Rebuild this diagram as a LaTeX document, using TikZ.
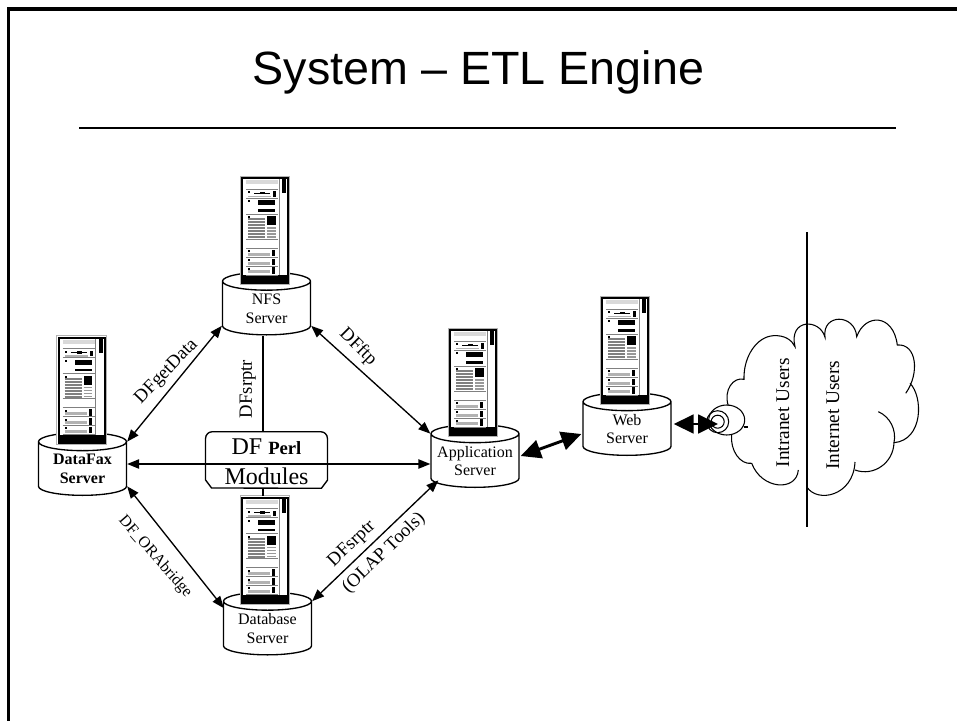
\documentclass[tikz,border=0pt]{standalone}
\usepackage{fontspec}
\setmainfont{Liberation Serif}
\newfontfamily\titlefont{Liberation Sans}
\usetikzlibrary{calc, shapes.geometric, arrows.meta}
\newcommand{\drumbody}{\hspace*{50pt}}
\tikzset{
	drum/.style={cylinder, shape border rotate=90, aspect=0.27, draw, line width=1pt, fill=white, anchor=shape center,
		minimum width=66pt, minimum height=47pt, inner sep=0pt},
	drumtext/.style={inner sep=0pt, align=center, font=\fontsize{12}{14}\selectfont},
	link/.style={line width=1pt, {Triangle[length=9pt,width=7pt]}-{Triangle[length=9pt,width=7pt]}},
	heavylink/.style={line width=2.2pt, {Triangle[length=15pt,width=14pt]}-{Triangle[length=15pt,width=14pt]}},
	linklabel/.style={inner sep=0pt, font=\fontsize{14}{16}\selectfont, align=center},
	rack/.pic={
		\draw [gray!60, fill=white, line width=0.5pt] (-0.8,-0.8) rectangle (48.8,107.8);
		\draw [black, line width=1.5pt] (1,1) rectangle (47,106);
		\fill [black] (0.5,98) rectangle (47.5,106.5);
		\fill [black] (41,2) rectangle (45,16);
		\fill [gray!30] (5,3) rectangle (37,7);
		\draw [gray, line width=0.4pt] (38,2) -- (38,98);
		\draw [gray, line width=0.4pt] (5,12) -- (37,12) (5,21) -- (37,21) (5,37) -- (37,37) (5,62) -- (37,62) (5,71) -- (37,71) (5,80) -- (37,80) (5,89) -- (37,89) (5,98) -- (37,98);
		% top row
		\fill [black] (7,14) rectangle (9,16);
		\draw [black, line width=0.5pt] (13,16) -- (29,16);
		\fill [black] (19,14.5) rectangle (24,17);
		\fill [black] (32,14) rectangle (35,19.5);
		\fill [gray!60] (7,18.5) rectangle (30,20);
		% second row
		\fill [black] (7,23) rectangle (9,25);
		\fill [black] (17,23) rectangle (34,28);
		\fill [black] (17,32) rectangle (34,34.5);
		% text block
		\fill [black] (7,39) rectangle (9,41);
		\fill [black] (26,39) rectangle (34.5,48);
		\foreach \ya in {42,45,48,51,54,57,60}
			\draw [gray, line width=1.5pt] (7,\ya) -- (24,\ya);
		\foreach \ya in {51,54,57,60}
			\draw [gray!80, line width=1.2pt] (26,\ya) -- (34.5,\ya);
		% lower rows
		\foreach \ya in {73,82,90.5}{
			\fill [black] (7,\ya) rectangle (9,\ya+2);
			\fill [gray!60] (7,\ya+2.5) rectangle (29,\ya+5.5);
			\fill [black] (31,\ya-0.5) rectangle (34,\ya+6);
		}
		\coordinate (-top) at (24,-1);
	}
}
\begin{document}
\begin{tikzpicture}[x=0.75pt,y=-0.75pt]
	\useasboundingbox (0,0) rectangle (957,721);
	% frame and title
	\draw [black, line width=2.3pt] (957,9) -- (8.5,9) -- (8.5,721);
	\node (title) at (478.5,72) {\titlefont\fontsize{35}{40}\selectfont System – ETL Engine};
	\draw [black, line width=0.8pt] (79,128) -- (896,128);

	% servers
	\node [drum] (nfs) at (266.5,303.5) {\drumbody};
	\node [drum] (datafax) at (82.5,464) {\drumbody};
	\node [drum] (app) at (475,456) {\drumbody};
	\node [drum] (web) at (627,424) {\drumbody};
	\node [drum] (db) at (267.5,623.5) {\drumbody};
	\node [drumtext] (nfstext) at ([yshift=-3.75pt]nfs.shape center) {NFS\\Server};
	\node [drumtext, font=\fontsize{12}{14}\selectfont\bfseries] (datafaxtext) at ([yshift=-3.75pt]datafax.shape center) {DataFax\\Server};
	\node [drumtext] (apptext) at ([yshift=-3.75pt]app.shape center) {Application\\Server};
	\node [drumtext] (webtext) at ([yshift=-3.75pt]web.shape center) {Web\\Server};
	\node [drumtext] (dbtext) at ([yshift=-3.75pt]db.shape center) {Database\\Server};
	\pic (nfsrack) at (241,177) {rack};
	\pic (dfrack) at (57.5,336.5) {rack};
	\pic (apprack) at (449,329) {rack};
	\pic (webrack) at (601,297) {rack};
	\pic (dbrack) at (241,496.5) {rack};

	% perl modules box
	\node [inner sep=0pt, minimum width=91pt, minimum height=42pt] (modules) at (266.5,460) {};
	\draw [link] (datafax.east |- datafax.shape center) -- (app.west |- datafax.shape center);
	\draw [black, line width=1pt, rounded corners=5pt] (modules.west) -- (modules.north west) -- (modules.north east) -- (modules.east);
	\draw [black, line width=1pt] (modules.west) -- ++(0,20) -- ++(6,8) -- ($(modules.south east)+(-6,0)$) -- ++(6,-8) -- (modules.east);
	\node [inner sep=0pt] (dfperl) at (266.5,447) {\fontsize{18}{20}\selectfont DF \fontsize{14}{16}\selectfont\bfseries Perl};
	\node [inner sep=0pt] (modtext) at (266.5,476) {\fontsize{18}{20}\selectfont Modules};

	% connectors
	\draw [link] (datafax.after top) -- (nfs.after bottom);
	\draw [link] (nfs.before bottom) -- (app.before top);
	\draw [link] (datafax.before bottom) -- ($(db.before top)+(1,7)$);
	\draw [link] (db.after top) -- ($(app.after bottom)+(8,2)$);
	\draw [black, line width=1pt] ([xshift=-2.6pt]nfs.south) -- ([xshift=-2.6pt]modules.north);
	\draw [black, line width=1pt] ([xshift=-2.6pt]modules.south) -- ([xshift=-2.6pt]modules.south |- dbrack-top);
	\draw [heavylink] ($(app.east |- app.shape center)+(1,0)$) -- ($(web.west |- web.shape center)+(-1,10)$);

	% labels
	\node [linklabel, rotate=46] (getdata) at (166.7,371.7) {DFgetData};
	\node [linklabel, rotate=90] (srptr) at (247.7,389) {DFsrptr};
	\node [linklabel, rotate=-45] (ftp) at (358,347) {DFftp};
	\node [linklabel, rotate=-49, font=\fontsize{12}{14}\selectfont] (orabridge) at (155,556.7) {DF\_ORAbridge};
	\node [linklabel, rotate=44] (srptrdb) at (352,544) {DFsrptr};
	\node [linklabel, rotate=44] (olap) at (384,553) {(OLAP Tools)};

	% cloud
	\draw [black, line width=0.8pt] (728.3,405.7) .. controls (723.3,390) and (733.3,376.7) .. (744,379.3)
		.. controls (743.3,356.7) and (756.7,336.7) .. (773.3,335.7)
		.. controls (785,335) and (791.7,340) .. (795,346.7)
		.. controls (788.3,318.3) and (820,318.3) .. (825,337.3)
		.. controls (821.7,313.3) and (855,313.3) .. (856.7,336.7)
		.. controls (865,313.3) and (893.3,313.3) .. (897.3,345)
		.. controls (916.7,343.3) and (920,373.3) .. (905.7,393.3);
	\draw [black, line width=0.8pt] (910,383.3) .. controls (923.3,396.7) and (923.3,440) .. (894,442.7)
		.. controls (893.3,463.3) and (873.3,476.7) .. (855,470);
	\draw [black, line width=0.8pt] (878.3,411.7) .. controls (890,416.7) and (896.7,430) .. (894,442.7);
	\draw [black, line width=0.8pt] (855,462) .. controls (853.3,496.7) and (816.7,503.3) .. (806.7,486.7);
	\draw [black, line width=0.8pt] (798.3,470) .. controls (796.7,491.7) and (761.7,490) .. (751.7,463.3)
		.. controls (740,465) and (730,450) .. (731.7,435);
	\draw [black, line width=0.8pt] (726.7,420) ellipse (18 and 15);
	\draw [black, line width=0.8pt] (717.7,421.7) circle (11);
	\draw [black, line width=0.8pt] (717.7,421.7) circle (6.5);
	\draw [black, line width=0.8pt] (744,427) -- (748,427);
	\coordinate (plug) at (718,424);
	\draw [black, line width=1.3pt] (807,232) -- (807,527);
	\draw [heavylink] ($(web.east |- web.shape center)+(2,0)$) -- (plug);
	\node [linklabel, rotate=90, font=\fontsize{14.5}{18}\selectfont] (intranet) at (783,412.7) {Intranet Users};
	\node [linklabel, rotate=90, font=\fontsize{14.5}{18}\selectfont] (internet) at (833,415) {Internet Users};
\end{tikzpicture}
\end{document}
